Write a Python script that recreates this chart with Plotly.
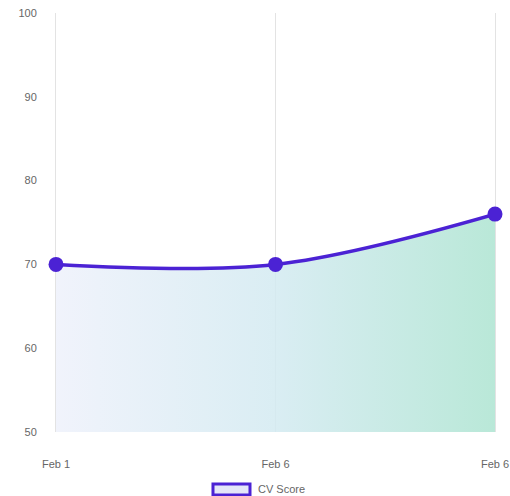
import plotly.graph_objects as go

dates = ["Feb 1", "Feb 6", "Feb 6"]
scores = [70, 70, 76]
y_ticks = [50, 60, 70, 80, 90, 100]
series_name = "CV Score"

xpos = list(range(len(dates)))
line_color = "#4b22d4"
grid_color = "#e3e3e3"

fig = go.Figure()
fig.add_trace(go.Scatter(
    x=xpos, y=scores, mode="lines+markers",
    line=dict(color=line_color, width=3.5, shape="spline", smoothing=1),
    marker=dict(size=15, color=line_color),
    fill="tozeroy",
    fillgradient=dict(type="horizontal",
                      colorscale=[[0, "rgba(238,241,251,0.85)"],
                                  [0.5, "rgba(211,234,241,0.85)"],
                                  [1, "rgba(173,228,209,0.85)"]]),
    cliponaxis=False, showlegend=False, hoverinfo="skip",
))

# legend (drawn as box + label)
fig.add_shape(type="rect", xref="paper", yref="paper",
              x0=0.3576, x1=0.4419, y0=-0.1505, y1=-0.124,
              line=dict(color=line_color, width=3), fillcolor="#e4e6f8")
fig.add_annotation(xref="paper", yref="paper", x=0.455, y=-0.137,
                   xanchor="left", yanchor="middle", showarrow=False,
                   text=series_name, font=dict(size=11, color="#666666"))

fig.update_layout(
    width=510, height=496,
    margin=dict(l=56, r=15, t=13, b=64, autoexpand=False),
    paper_bgcolor="white", plot_bgcolor="white",
    font=dict(family="Liberation Sans, Arial, sans-serif", size=11, color="#666666"),
    showlegend=False,
    xaxis=dict(range=[0, len(dates) - 1], tickvals=xpos, ticktext=dates,
               showgrid=True, gridcolor=grid_color, gridwidth=1, zeroline=False,
               showline=False, ticks="outside", ticklen=22, tickcolor="rgba(0,0,0,0)",
               automargin=False),
    yaxis=dict(range=[50, 100], tickvals=y_ticks, showgrid=False, zeroline=False,
               showline=True, mirror=True, linecolor=grid_color, linewidth=1,
               layer="below traces",
               ticks="outside", ticklen=16, tickcolor="rgba(0,0,0,0)",
               automargin=False),
)

fig.write_html("out.html", config={"displayModeBar": False},
               post_script="document.body.style.margin='0';document.body.style.overflow='hidden';")
